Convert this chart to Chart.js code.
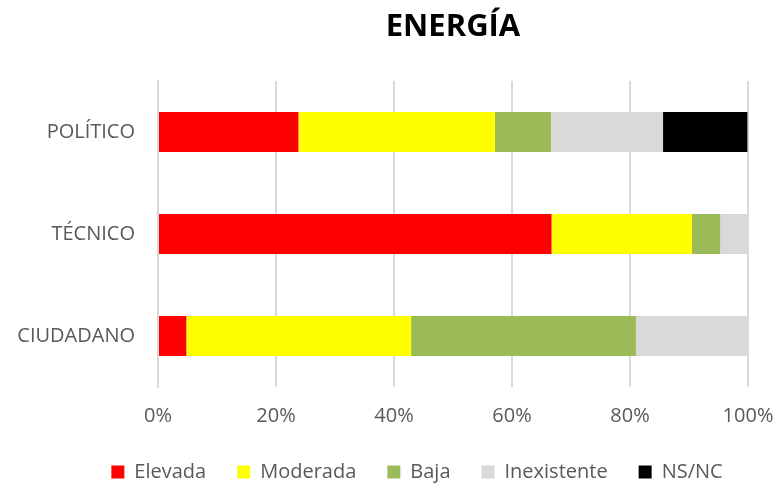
<!DOCTYPE html>
<html>
<head>
<meta charset="utf-8">
<script src="https://cdn.jsdelivr.net/npm/chart.js@4"></script>
<style>
  html, body { margin: 0; padding: 0; background: #fff; }
  #wrap { width: 774px; height: 483px; }
</style>
</head>
<body>
<div id="wrap"><canvas id="c" width="774" height="483"></canvas></div>
<script>
const chartTitle = 'ENERGÍA';
const categories = ['POLÍTICO', 'TÉCNICO', 'CIUDADANO'];
const seriesNames = ['Elevada', 'Moderada', 'Baja', 'Inexistente', 'NS/NC'];
const elevada = [23.8, 66.7, 4.8];
const moderada = [33.3, 23.8, 38.1];
const baja = [9.5, 4.8, 38.1];
const inexistente = [19.0, 4.8, 19.0];
const nsnc = [14.3, 0, 0];
const seriesColors = ['#FF0000', '#FFFF00', '#9BBB59', '#D9D9D9', '#000000'];
const xTicks = [0, 20, 40, 60, 80, 100];

const FONT = "'Open Sans', 'Liberation Sans', sans-serif";
const seriesData = [elevada, moderada, baja, inexistente, nsnc];

const titlePlugin = {
  id: 'centeredTitle',
  afterLayout(chart) {
    const lg = chart.legend;
    if (lg) { lg.left += 30; lg.right += 30; lg.top -= 14; lg.bottom -= 14; }
  },
  afterDraw(chart) {
    const ctx = chart.ctx;
    const a = chart.chartArea;
    ctx.save();
    ctx.font = "bold 31px " + FONT;
    ctx.fillStyle = '#000000';
    ctx.textAlign = 'center';
    ctx.textBaseline = 'middle';
    ctx.fillText(chartTitle, (a.left + a.right) / 2, 27);
    ctx.restore();
  }
};

new Chart(document.getElementById('c'), {
  type: 'bar',
  data: {
    labels: categories,
    datasets: seriesNames.map((n, i) => ({
      label: n,
      data: seriesData[i],
      backgroundColor: seriesColors[i],
      borderWidth: 0,
      barPercentage: 0.393,
      categoryPercentage: 1.0
    }))
  },
  options: {
    indexAxis: 'y',
    responsive: false,
    animation: false,
    layout: { padding: { left: 0, right: 0, top: 81, bottom: -23 } },
    scales: {
      x: {
        stacked: true,
        min: 0, max: 100,
        afterBuildTicks(scale) { scale.ticks = xTicks.map(v => ({ value: v })); },
        afterFit(scale) { scale.paddingRight = 26; scale.paddingLeft = 0; },
        grid: { color: '#D9D9D9', lineWidth: 2, drawTicks: false },
        border: { display: false },
        ticks: {
          color: '#595959',
          font: { family: FONT, size: 20 },
          padding: 17,
          callback: v => v + '%'
        }
      },
      y: {
        stacked: true,
        afterFit(scale) { scale.width = 158; },
        grid: { display: false, drawTicks: false },
        border: { display: true, color: '#D9D9D9', width: 2 },
        ticks: {
          color: '#595959',
          font: { family: FONT, size: 20 },
          padding: 23
        }
      }
    },
    plugins: {
      legend: {
        position: 'bottom',
        labels: {
          color: '#595959',
          font: { family: FONT, size: 20 },
          boxWidth: 13,
          boxHeight: 13,
          padding: 31
        }
      },
      title: { display: false },
      tooltip: { enabled: false }
    }
  },
  plugins: [titlePlugin]
});
</script>
</body>
</html>
